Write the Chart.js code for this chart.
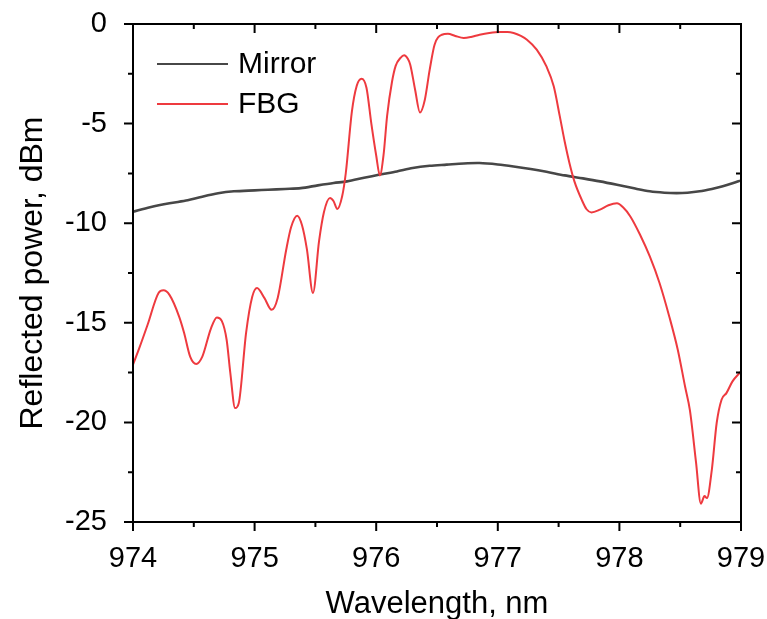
<!DOCTYPE html>
<html>
<head>
<meta charset="utf-8">
<script src="https://cdn.jsdelivr.net/npm/chart.js@4.4.0/dist/chart.umd.min.js"></script>
<style>
  html,body{margin:0;padding:0;background:#fff;}
  canvas{display:block;}
</style>
</head>
<body>
<canvas id="spectrum" width="767" height="619"></canvas>
<script>
// values
var mirrorWl=[974.00,974.14,974.30,974.45,974.55,974.70,974.83,975.00,975.11,975.25,975.38,975.52,975.65,975.76,975.90,976.03,976.17,976.30,976.44,976.58,976.72,976.85,977.00,977.13,977.27,977.40,977.55,977.70,977.84,977.98,978.12,978.25,978.37,978.47,978.56,978.66,978.76,978.85,978.93,979.00];
var mirrorPow=[-9.43,-9.2,-9.0,-8.85,-8.7,-8.5,-8.4,-8.35,-8.32,-8.28,-8.24,-8.1,-7.98,-7.9,-7.72,-7.56,-7.4,-7.23,-7.12,-7.06,-7.0,-6.98,-7.05,-7.15,-7.28,-7.42,-7.6,-7.75,-7.9,-8.07,-8.25,-8.4,-8.47,-8.49,-8.47,-8.4,-8.28,-8.15,-8.0,-7.85];

var fbgWl=[974.00,974.05,974.12,974.21,974.25,974.30,974.38,974.42,974.47,974.52,974.57,974.64,974.69,974.73,974.77,974.80,974.84,974.87,974.93,974.98,975.02,975.08,975.14,975.19,975.26,975.30,975.35,975.39,975.43,975.48,975.53,975.57,975.62,975.65,975.68,975.72,975.75,975.80,975.84,975.88,975.92,975.96,976.00,976.03,976.06,976.09,976.13,976.16,976.20,976.23,976.26,976.28,976.32,976.36,976.40,976.44,976.48,976.54,976.59,976.65,976.72,976.78,976.85,976.93,977.02,977.08,977.13,977.19,977.24,977.32,977.40,977.46,977.51,977.55,977.59,977.63,977.69,977.73,977.77,977.84,977.91,977.98,978.03,978.09,978.17,978.25,978.33,978.41,978.48,978.54,978.58,978.63,978.67,978.70,978.72,978.76,978.80,978.84,978.88,978.93,979.00];
var fbgPow=[-17.1,-16.3,-15.1,-13.5,-13.37,-13.6,-14.7,-15.5,-16.7,-17.07,-16.7,-15.3,-14.73,-14.9,-15.85,-17.5,-19.28,-19.03,-15.5,-13.7,-13.25,-13.75,-14.35,-13.75,-11.33,-10.2,-9.62,-10.1,-11.3,-13.5,-10.9,-9.45,-8.74,-8.9,-9.29,-8.65,-7.48,-4.4,-3.1,-2.75,-3.2,-5.0,-6.6,-7.6,-6.6,-4.6,-2.9,-2.1,-1.7,-1.57,-1.75,-2.04,-3.3,-4.44,-3.8,-2.29,-1.04,-0.54,-0.49,-0.6,-0.7,-0.65,-0.54,-0.45,-0.40,-0.4,-0.45,-0.6,-0.79,-1.29,-2.13,-3.13,-4.64,-5.9,-7.0,-7.9,-8.82,-9.3,-9.46,-9.32,-9.1,-9.0,-9.2,-9.66,-10.58,-11.67,-13.0,-14.68,-16.35,-18.2,-19.4,-22.0,-24.08,-23.7,-23.8,-22.38,-20.03,-18.86,-18.53,-17.94,-17.44];

var xMin=974, xMax=979, yMin=-25, yMax=0;
var FONT='"Liberation Sans", Arial, sans-serif';

function pts(xs,ys){
  var out=[];
  for(var i=0;i<xs.length;i++) out.push({x:xs[i],y:ys[i]});
  return out;
}

// frame, in/out ticks, titles and the legend
var framePlugin={
  id:'frame',
  afterDraw:function(chart){
    var c=chart.ctx, a=chart.chartArea;
    var xs=chart.scales.x, ys=chart.scales.y;
    c.save();
    c.strokeStyle='#000';
    c.lineWidth=2;
    c.strokeRect(a.left,a.top,a.right-a.left,a.bottom-a.top);
    c.beginPath();
    for(var v=xMin;v<=xMax+1e-9;v+=0.5){
      var px=xs.getPixelForValue(v);
      var major=Math.abs(v-Math.round(v))<1e-6;
      var len=major?9:5;
      c.moveTo(px,a.bottom);c.lineTo(px,a.bottom+len);   // bottom: out
      c.moveTo(px,a.top);c.lineTo(px,a.top+len);         // top: in
    }
    for(var w=yMin;w<=yMax+1e-9;w+=2.5){
      var py=ys.getPixelForValue(w);
      var majorY=Math.abs(w/5-Math.round(w/5))<1e-6;
      var l=majorY?9:5;
      c.moveTo(a.left,py);c.lineTo(a.left-l,py);         // left: out
      c.moveTo(a.right,py);c.lineTo(a.right-l,py);       // right: in
    }
    c.stroke();

    c.fillStyle='#000';
    c.font='31px '+FONT;
    c.textAlign='center';
    c.textBaseline='alphabetic';
    c.fillText('Wavelength, nm',(a.left+a.right)/2,613);
    c.save();
    c.translate(42,(a.top+a.bottom)/2);
    c.rotate(-Math.PI/2);
    c.font='32px '+FONT;
    c.fillText('Reflected power, dBm',0,0);
    c.restore();

    var items=chart.data.datasets;
    var ly=[64,104];
    c.font='30px '+FONT;
    c.textAlign='left';
    c.textBaseline='middle';
    for(var i=0;i<items.length;i++){
      c.strokeStyle=items[i].borderColor;
      c.lineWidth=2;
      c.beginPath();c.moveTo(157,ly[i]);c.lineTo(228,ly[i]);c.stroke();
      c.fillStyle='#000';
      c.fillText(items[i].label,238,ly[i]+1);
    }
    c.restore();
  }
};

var ctx=document.getElementById('spectrum');
var chart=new Chart(ctx,{
  type:'line',
  data:{
    datasets:[
      {
        label:'Mirror',
        data:pts(mirrorWl,mirrorPow),
        borderColor:'#474747',
        borderWidth:2.6,
        pointRadius:0,
        tension:0.3,
        order:2
      },
      {
        label:'FBG',
        data:pts(fbgWl,fbgPow),
        borderColor:'#ee3a3f',
        borderWidth:2,
        pointRadius:0,
        cubicInterpolationMode:'monotone',
        order:1
      }
    ]
  },
  plugins:[framePlugin],
  options:{
    responsive:false,
    animation:false,
    layout:{padding:{left:0,right:26,top:24,bottom:0}},
    plugins:{legend:{display:false},tooltip:{enabled:false}},
    scales:{
      x:{
        type:'linear',
        min:xMin,max:xMax,
        grid:{display:false},
        border:{display:false},
        ticks:{stepSize:1,padding:12,color:'#000',font:{family:FONT,size:29}},
        afterFit:function(s){s.height=97;s.paddingLeft=0;s.paddingRight=0;}
      },
      y:{
        min:yMin,max:yMax,
        grid:{display:false},
        border:{display:false},
        ticks:{stepSize:5,padding:18,color:'#000',font:{family:FONT,size:29}},
        afterFit:function(s){s.width=133;s.paddingTop=0;s.paddingBottom=0;}
      }
    }
  }
});
</script>
</body>
</html>
